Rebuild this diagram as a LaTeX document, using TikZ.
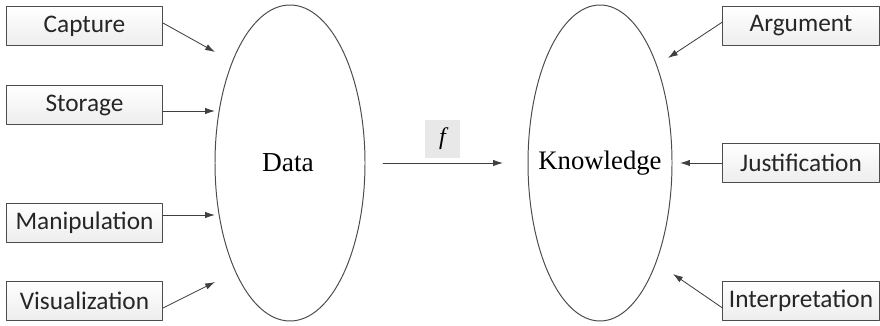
\documentclass[tikz,border=0pt]{standalone}
\usepackage{fontspec}
\setmainfont{Liberation Serif}
\newfontfamily\boxfont{Carlito}
\usetikzlibrary{arrows.meta}
\tikzset{
  tagbox/.style={draw=gray!60!black,line width=0.7pt,top color=white,bottom color=gray!14,
    minimum width=3.9cm,minimum height=0.97cm,inner sep=0pt,
    font=\boxfont\fontsize{18}{20}\selectfont,text=black!85},
  blob/.style={draw=gray!60!black,line width=0.7pt},
  feed/.style={draw=black!75,line width=0.6pt,-{Latex[length=7pt,width=4.5pt]}}
}
\begin{document}
\begin{tikzpicture}[x=0.025cm,y=-0.025cm,line cap=round,line join=round]
  \useasboundingbox (0,0) rectangle (880,326);

  % Data and knowledge ellipses
  \draw[blob] (290,163) ellipse [x radius=75,y radius=158];
  \draw[blob] (600,163) ellipse [x radius=72,y radius=158];
  \node[font=\fontsize{19.5}{22}\selectfont] (data) at (288,163) {Data};
  \node[font=\fontsize{19}{22}\selectfont] (know) at (600,163) {Knowledge};

  % Left column
  \node[tagbox] (capt) at (84.5,26) {Capture};
  \node[tagbox] (stor) at (84.5,105) {Storage};
  \node[tagbox] (mani) at (84.5,223) {Manipulation};
  \node[tagbox] (visu) at (84.5,301) {Visualization};

  % Right column
  \node[tagbox] (argu) at (801,26) {Argument};
  \node[tagbox] (just) at (801,163) {Justification};
  \node[tagbox] (inte) at (801,301) {Interpretation};

  % Arrow heads near the ellipses
  \coordinate (c1) at (215,52);
  \coordinate (c2) at (215,111);
  \coordinate (c3) at (215,215);
  \coordinate (c4) at (215,282);
  \coordinate (k1) at (668,58);
  \coordinate (k2) at (680,163);
  \coordinate (k3) at (673,274);

  \draw[feed] (capt.east) ++(0,-3) coordinate (s1) -- (c1);
  \draw[feed] (stor.east |- c2) -- (c2);
  \draw[feed] (mani.east |- c3) -- (c3);
  \draw[feed] (visu.east) ++(0,7) coordinate (s4) -- (c4);
  \draw[feed] (argu.west) ++(0,-4) coordinate (t1) -- (k1);
  \draw[feed] (just.west) -- (k2);
  \draw[feed] (inte.west) ++(0,7) coordinate (t3) -- (k3);

  % Mapping from data to knowledge
  \coordinate (m1) at (383,163);
  \coordinate (m2) at (503,163);
  \draw[feed] (m1) -- (m2);
  \node[fill=gray!18,minimum width=0.88cm,minimum height=0.95cm,inner sep=0pt,
    font=\fontsize{17}{19}\selectfont\itshape] (fmap) at (442.5,139) {f};
\end{tikzpicture}
\end{document}
